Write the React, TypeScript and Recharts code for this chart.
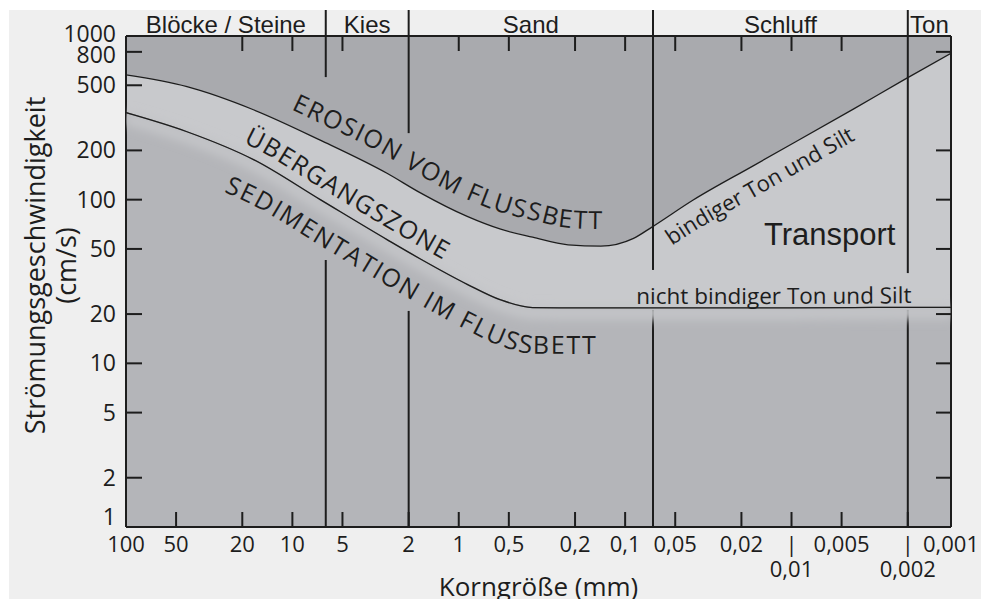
import React from 'react';
import * as Recharts from 'recharts';
import {
  ComposedChart,
  Area,
  Line,
  XAxis,
  YAxis,
  ReferenceLine,
  ReferenceArea,
  Curve,
} from 'recharts';

// grain size (mm), coarse to fine, where the two curves were read
const grainSize = [100, 43, 17, 6.8, 2.7, 1.7, 0.89, 0.56, 0.36, 0.22, 0.14, 0.089, 0.069, 0.039, 0.017, 0.0042, 0.0021, 0.0011];
// flow velocity (cm/s) above which the bed gets eroded
const erosionVelocity = [578, 490, 353, 231, 145, 110, 79, 66, 59, 53, 52, 58, 68, 99.5, 161, 360, 541, 784];
// flow velocity (cm/s) below which the grains settle
const sedimentationVelocity = [340, 260, 175, 100, 57, 43.4, 30.4, 24.4, 21.9, 21.8, 21.8, 21.8, 21.8, 21.8, 21.8, 21.9, 22, 22];

const bandNames = ['Blöcke / Steine', 'Kies', 'Sand', 'Schluff', 'Ton'];
const bandEdges = [100, 6.3, 2, 0.068, 0.002, 0.0011];
// velocities where the divider strokes stop / start again
const dividerGapTop = [561, 255, 37.2, 35.6];
const dividerGapBottom = [42.8, 20.9, 21.2, 21.2];

const xTicks = [100, 50, 20, 10, 5, 2, 1, 0.5, 0.2, 0.1, 0.05, 0.02, 0.01, 0.005, 0.002, 0.0011];
const xTickLabels = ['100', '50', '20', '10', '5', '2', '1', '0,5', '0,2', '0,1', '0,05', '0,02', '0,01', '0,005', '0,002', '0,001'];
const xTicksLowered = [0.01, 0.002];
const topTicks = [20, 10, 5, 1, 0.5, 0.2, 0.1, 0.05, 0.02, 0.01, 0.005];
const yTicks = [1, 2, 5, 10, 20, 50, 100, 200, 500, 800, 1000];
const rightTicks = [2, 5, 10, 20, 50, 100, 200, 800];

const X_DOMAIN = [0.0011, 100];
const Y_DOMAIN = [1, 1000];

const INK = '#1d1d1d';
const SANS = '"Open Sans", "Noto Sans", sans-serif';
const ARIAL = '"Liberation Sans", Arial, sans-serif';
const TOP_AXIS_H = 26;

const rows = grainSize.map((size, i) => ({
  size,
  erosion: erosionVelocity[i],
  sedimentation: sedimentationVelocity[i],
}));

// text that runs parallel to the curves (shift = px above/below the curve)
const curveLabels = [
  { id: 'lbl-erosion', text: 'EROSION VOM FLUSSBETT', curve: 'erosion', from: 10.2, shift: -17, size: 25, spacing: 1.5 },
  { id: 'lbl-zone', text: 'ÜBERGANGSZONE', curve: 'sedimentation', from: 19.8, shift: -12, size: 25, spacing: 1.4 },
  { id: 'lbl-sed', text: 'SEDIMENTATION IM FLUSSBETT', curve: 'sedimentation', from: 26, shift: 46, size: 25, spacing: 1.8 },
  { id: 'lbl-coh', text: 'bindiger Ton und Silt', curve: 'erosion', from: 0.052, shift: 32, size: 22, spacing: 0 },
  { id: 'lbl-noncoh', text: 'nicht bindiger Ton und Silt', curve: 'sedimentation', from: 0.0855, shift: -4, size: 22.5, spacing: 0 },
];
const transportLabel = { size: 0.0059, velocity: 53 };

const R: any = Recharts;

function usePlotBox() {
  const hook = R.usePlotArea;
  const area = hook ? hook() : null;
  return area || { x: 126, y: 36, width: 825, height: 491 };
}

function projector(area: any) {
  const lx0 = Math.log10(X_DOMAIN[1]);
  const lx1 = Math.log10(X_DOMAIN[0]);
  const ly0 = Math.log10(Y_DOMAIN[1]);
  const ly1 = Math.log10(Y_DOMAIN[0]);
  return {
    sx: (d: number) => area.x + (area.width * (lx0 - Math.log10(d))) / (lx0 - lx1),
    sy: (v: number) => area.y + (area.height * (ly0 - Math.log10(v))) / (ly0 - ly1),
  };
}

function curvePoints(area: any, key: string, shift = 0) {
  const { sx, sy } = projector(area);
  return rows.map((r: any) => ({ x: sx(r.size), y: sy(r[key]) + shift }));
}

function arcTo(points: { x: number; y: number }[], xTarget: number) {
  let len = 0;
  for (let i = 1; i < points.length; i++) {
    const a = points[i - 1];
    const b = points[i];
    const seg = Math.hypot(b.x - a.x, b.y - a.y);
    if (xTarget <= b.x) return len + (seg * (xTarget - a.x)) / (b.x - a.x);
    len += seg;
  }
  return len;
}

// soft light halo under the sedimentation curve, with the curve re-inked on top
const SedimentGlow = () => {
  const area = usePlotBox();
  const pts = curvePoints(area, 'sedimentation');
  const below = curvePoints(area, 'sedimentation', 5);
  return (
    <g>
      <defs>
        <filter id="sed-glow" x="-20%" y="-50%" width="140%" height="200%">
          <feGaussianBlur stdDeviation="5" />
        </filter>
        <clipPath id="plot-clip">
          <rect x={area.x} y={area.y} width={area.width} height={area.height} />
        </clipPath>
      </defs>
      <g clipPath="url(#plot-clip)">
        <g filter="url(#sed-glow)">
          <Curve type="monotone" points={below} fill="none" stroke="#c3c4c7" strokeWidth={14} />
        </g>
      </g>
      <Curve type="monotone" points={pts} fill="none" stroke={INK} strokeWidth={1.3} />
    </g>
  );
};

const CurveTexts = () => {
  const area = usePlotBox();
  const { sx, sy } = projector(area);
  return (
    <g fill={INK} fontFamily={SANS}>
      {curveLabels.map((l) => {
        const pts = curvePoints(area, l.curve, l.shift);
        return (
          <g key={l.id}>
            <Curve id={l.id} type="monotone" points={pts} fill="none" stroke="none" />
            <text fontSize={l.size} letterSpacing={l.spacing}>
              <textPath href={`#${l.id}`} startOffset={arcTo(pts, sx(l.from))}>
                {l.text}
              </textPath>
            </text>
          </g>
        );
      })}
      <text
        x={sx(transportLabel.size)}
        y={sy(transportLabel.velocity)}
        textAnchor="middle"
        fontFamily={ARIAL}
        fontSize={31}
      >
        Transport
      </text>
    </g>
  );
};

const BottomTick = (p: any) => {
  const { x, y, payload } = p;
  const v = payload.value;
  const idx = xTicks.indexOf(v);
  const label = xTickLabels[idx];
  const lowered = xTicksLowered.includes(v);
  const edge = v === X_DOMAIN[0] || v === X_DOMAIN[1];
  return (
    <g fontFamily={SANS} fontSize={22} fill={INK}>
      {!edge && <line x1={x} x2={x} y1={y} y2={y - 15} stroke={INK} strokeWidth={2} />}
      <text x={x} y={y + 25} textAnchor="middle">
        {lowered ? '|' : label}
      </text>
      {lowered && (
        <text x={x} y={y + 50} textAnchor="middle">
          {label}
        </text>
      )}
    </g>
  );
};

const TopTick = (p: any) => {
  const { x, y, payload } = p;
  const boundary = bandEdges.includes(payload.value);
  return boundary ? (
    <line x1={x} x2={x} y1={y} y2={y - TOP_AXIS_H} stroke={INK} strokeWidth={2} />
  ) : (
    <line x1={x} x2={x} y1={y} y2={y + 15} stroke={INK} strokeWidth={2} />
  );
};

const LeftTick = (p: any) => {
  const { x, y, payload } = p;
  const v = payload.value;
  const corner = v === Y_DOMAIN[0] || v === Y_DOMAIN[1];
  // the printed chart nudges the crowded top and bottom labels apart
  const dy = v === 1 ? -2 : v === 1000 ? 6 : v === 800 ? 11 : 8;
  return (
    <g>
      {!corner && <line x1={x} x2={x + 16} y1={y} y2={y} stroke={INK} strokeWidth={2} />}
      <text x={x - 10} y={y} dy={dy} textAnchor="end" fontFamily={SANS} fontSize={23} fill={INK}>
        {v}
      </text>
    </g>
  );
};

const RightTick = (p: any) => {
  const { x, y } = p;
  return <line x1={x} x2={x - 15} y1={y} y2={y} stroke={INK} strokeWidth={2} />;
};

const YTitle = (p: any) => {
  const { x, y, height } = p.viewBox;
  const cy = y + height / 2 - 16;
  const x1 = x + 45;
  const x2 = x + 76;
  return (
    <g fontFamily={SANS} fontSize={27} fill={INK}>
      <text x={x1} y={cy} textAnchor="middle" transform={`rotate(-90 ${x1} ${cy})`}>
        Strömungsgeschwindigkeit
      </text>
      <text x={x2} y={cy} textAnchor="middle" transform={`rotate(-90 ${x2} ${cy})`}>
        (cm/s)
      </text>
    </g>
  );
};

const axisLine = { stroke: INK, strokeWidth: 2 };

export default function App() {
  return (
    <div style={{ position: 'absolute', left: 0, top: 0, width: 981, height: 599, background: '#fff', overflow: 'hidden' }}>
      <div style={{ position: 'absolute', left: 9, top: 10, right: 0, bottom: 0, background: '#efefef' }} />
      <div style={{ position: 'absolute', left: 0, top: 0 }}>
        <ComposedChart width={981} height={599} data={rows} margin={{ top: 10, right: 0, bottom: 0, left: 0 }}>
          <Area
            dataKey={(r: any) => [r.erosion, Y_DOMAIN[1]]}
            type="monotone"
            fill="#a9aaae"
            fillOpacity={1}
            stroke="none"
            activeDot={false}
            isAnimationActive={false}
          />
          <Area
            dataKey={(r: any) => [r.sedimentation, r.erosion]}
            type="monotone"
            fill="#c8c9cc"
            fillOpacity={1}
            stroke="none"
            activeDot={false}
            isAnimationActive={false}
          />
          <Area
            dataKey={(r: any) => [Y_DOMAIN[0], r.sedimentation]}
            type="monotone"
            fill="#b4b5b9"
            fillOpacity={1}
            stroke="none"
            activeDot={false}
            isAnimationActive={false}
            label={(lp: any) => (lp.index === 0 ? <SedimentGlow key="glow" /> : null)}
          />

          {bandNames.map((name, i) => (
            <ReferenceArea
              key={name}
              x1={bandEdges[i]}
              x2={bandEdges[i + 1]}
              fill="none"
              stroke="none"
              ifOverflow="visible"
              label={{ value: name, position: 'top', offset: 3, fontSize: 24, fontFamily: ARIAL, fill: INK }}
            />
          ))}
          {dividerGapTop.map((v, i) => (
            <ReferenceLine
              key={`t${i}`}
              segment={[
                { x: bandEdges[i + 1], y: Y_DOMAIN[1] },
                { x: bandEdges[i + 1], y: v },
              ]}
              stroke={INK}
              strokeWidth={2}
            />
          ))}
          {dividerGapBottom.map((v, i) => (
            <ReferenceLine
              key={`b${i}`}
              segment={[
                { x: bandEdges[i + 1], y: v },
                { x: bandEdges[i + 1], y: Y_DOMAIN[0] },
              ]}
              stroke={INK}
              strokeWidth={2}
            />
          ))}

          <Line
            dataKey="erosion"
            type="monotone"
            stroke={INK}
            strokeWidth={1.3}
            dot={false}
            activeDot={false}
            isAnimationActive={false}
          />
          <Line
            dataKey="sedimentation"
            type="monotone"
            stroke={INK}
            strokeWidth={1.3}
            dot={false}
            activeDot={false}
            isAnimationActive={false}
            label={(lp: any) => (lp.index === 0 ? <CurveTexts key="texts" /> : null)}
          />

          <XAxis
            dataKey="size"
            type="number"
            scale="log"
            domain={X_DOMAIN}
            reversed
            allowDataOverflow
            ticks={xTicks}
            interval={0}
            tick={BottomTick}
            tickLine={false}
            tickSize={0}
            tickMargin={0}
            axisLine={axisLine}
            height={72}
            label={{ value: 'Korngröße (mm)', position: 'insideBottom', offset: 3, fontSize: 26, fontFamily: SANS, fill: INK }}
          />
          <XAxis
            xAxisId="top"
            dataKey="size"
            orientation="top"
            type="number"
            scale="log"
            domain={X_DOMAIN}
            reversed
            allowDataOverflow
            ticks={[...topTicks, ...bandEdges.slice(1, 5)]}
            interval={0}
            tick={TopTick}
            tickLine={false}
            tickSize={0}
            tickMargin={0}
            axisLine={axisLine}
            height={TOP_AXIS_H}
          />
          <YAxis
            type="number"
            scale="log"
            domain={Y_DOMAIN}
            allowDataOverflow
            ticks={yTicks}
            interval={0}
            tick={LeftTick}
            tickLine={false}
            tickSize={0}
            tickMargin={0}
            axisLine={axisLine}
            width={126}
            label={{ content: YTitle }}
          />
          <YAxis
            yAxisId="right"
            orientation="right"
            type="number"
            scale="log"
            domain={Y_DOMAIN}
            allowDataOverflow
            ticks={rightTicks}
            interval={0}
            tick={RightTick}
            tickLine={false}
            tickSize={0}
            tickMargin={0}
            axisLine={axisLine}
            width={30}
          />
        </ComposedChart>
      </div>
    </div>
  );
}
